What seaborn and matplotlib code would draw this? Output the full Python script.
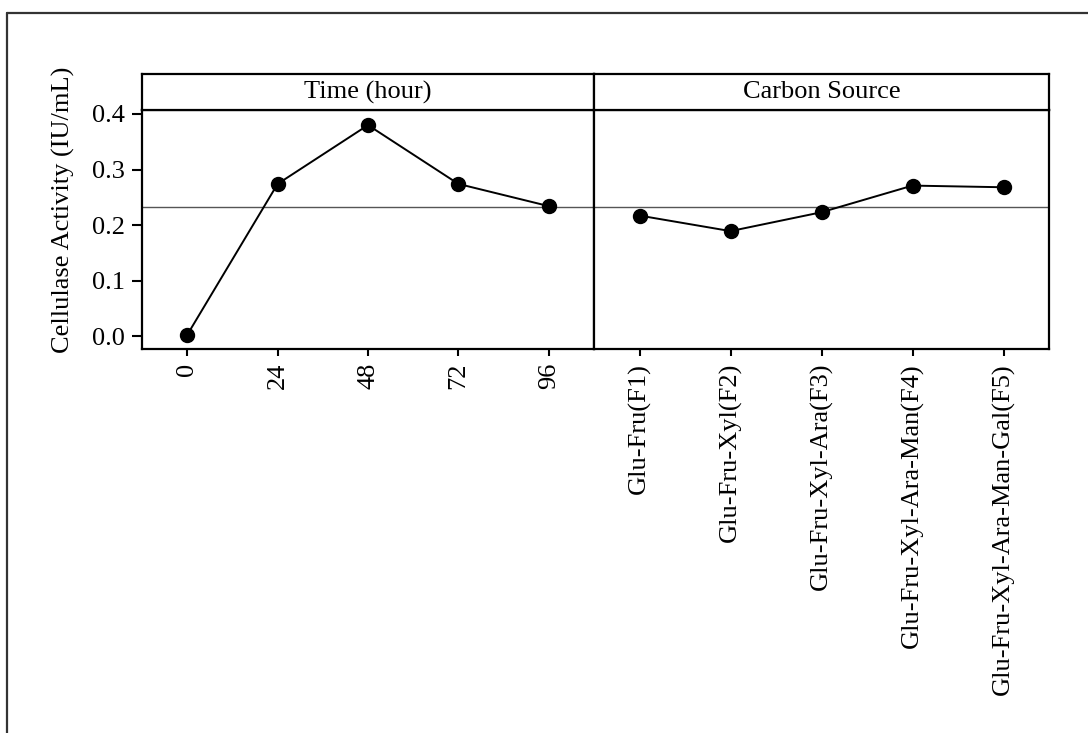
import matplotlib
matplotlib.use("Agg")
import matplotlib.pyplot as plt
import seaborn as sns
import pandas as pd
from matplotlib.lines import Line2D

# ---- data ----
time_levels = ["0", "24", "48", "72", "96"]
time_values = [0.002, 0.274, 0.380, 0.274, 0.234]
carbon_levels = ["Glu-Fru(F1)", "Glu-Fru-Xyl(F2)", "Glu-Fru-Xyl-Ara(F3)",
                 "Glu-Fru-Xyl-Ara-Man(F4)", "Glu-Fru-Xyl-Ara-Man-Gal(F5)"]
carbon_values = [0.217, 0.189, 0.223, 0.271, 0.268]
panel_titles = ["Time (hour)", "Carbon Source"]
y_label = "Cellulase Activity (IU/mL)"
y_ticks = [0.0, 0.1, 0.2, 0.3, 0.4]

grand_mean = sum(time_values) / len(time_values)

FS = 19

sns.set_theme(style="white")
plt.rcParams["font.family"] = ["Liberation Serif", "DejaVu Serif"]
plt.rcParams["axes.edgecolor"] = "black"

W, H = 1088, 733
fig = plt.figure(figsize=(W / 100, H / 100), dpi=100)
fig.patch.set_facecolor("white")

# outer border (top and left visible)
fig.add_artist(Line2D([7 / W, 1.0], [1 - 13 / H, 1 - 13 / H], transform=fig.transFigure,
                      color="#333333", lw=1.6))
fig.add_artist(Line2D([7 / W, 7 / W], [1 - 13 / H, 0], transform=fig.transFigure,
                      color="#333333", lw=1.6))

def fx(px):
    return px / W

def fy(py):
    return 1 - py / H

panels = [
    dict(left=142, right=594, levels=time_levels, values=time_values,
         xlim=(-0.5, 4.5), title=panel_titles[0]),
    dict(left=594, right=1049, levels=carbon_levels, values=carbon_values,
         xlim=(-0.5, 4.5), title=panel_titles[1]),
]
top_strip, top_data, bottom = 74, 110, 349
ylim = (-0.0234, 0.4072)

for i, p in enumerate(panels):
    ax = fig.add_axes([fx(p["left"]), fy(bottom), fx(p["right"] - p["left"]),
                       (bottom - top_data) / H])
    df = pd.DataFrame({"level": p["levels"], "value": p["values"]})
    ax.axhline(grand_mean, color="#555555", lw=1.0, zorder=1)
    sns.pointplot(data=df, x="level", y="value", order=p["levels"], color="black",
                  markers="o", linestyles="-", errorbar=None, ax=ax,
                  markersize=10, linewidth=1.4)
    ax.set_xlim(*p["xlim"])
    ax.set_ylim(*ylim)
    ax.set_xlabel("")
    ax.set_ylabel("")
    ax.set_xticks(range(len(p["levels"])))
    ax.set_xticklabels(p["levels"], rotation=90, fontsize=FS)
    for s in ax.spines.values():
        s.set_linewidth(1.6)
        s.set_color("black")
    ax.tick_params(axis="x", direction="out", length=5, width=1.5, pad=5,
                   bottom=True, colors="black")
    if i == 0:
        ax.set_yticks(y_ticks)
        ax.set_yticklabels([f"{v:.1f}" for v in y_ticks], fontsize=FS)
        ax.tick_params(axis="y", direction="out", length=7, width=1.5, pad=5,
                       left=True, colors="black")
        ax.set_ylabel(y_label, fontsize=FS, color="black")
        ax.yaxis.set_label_coords(-0.149, 0.582)
    else:
        ax.set_yticks([])
    ax.set_facecolor("white")
    # strip
    sax = fig.add_axes([fx(p["left"]), fy(top_data), fx(p["right"] - p["left"]),
                        (top_data - top_strip) / H])
    sax.set_xticks([])
    sax.set_yticks([])
    sax.set_facecolor("white")
    for s in sax.spines.values():
        s.set_linewidth(1.6)
        s.set_color("black")
    sax.text(0.5, 0.5, p["title"], ha="center", va="center", fontsize=FS,
             transform=sax.transAxes, color="black")

fig.savefig("out.png", dpi=100, facecolor="white")
